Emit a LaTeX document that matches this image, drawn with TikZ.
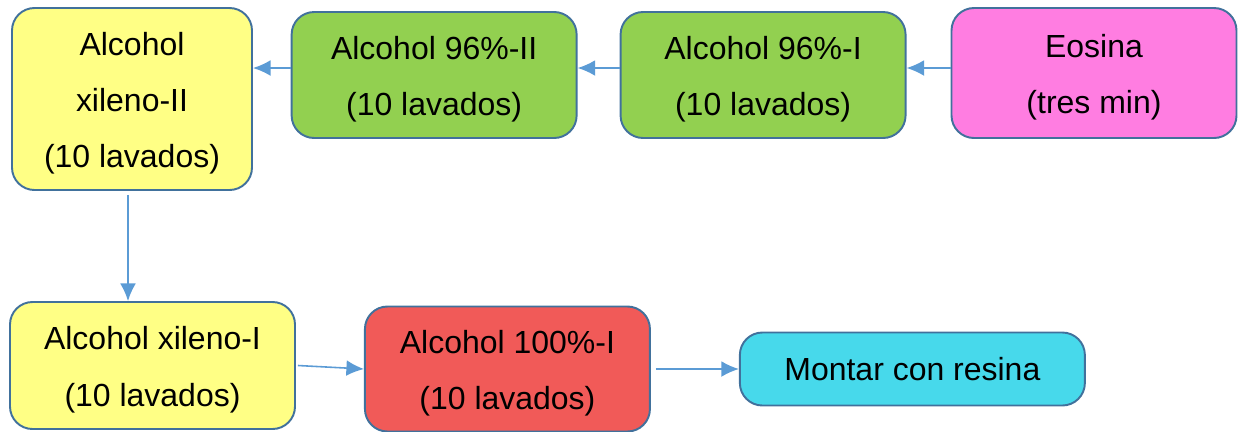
\documentclass[tikz,border=0pt]{standalone}
\usepackage{fontspec}
\setmainfont{Liberation Sans}
\usetikzlibrary{arrows.meta, positioning}
\definecolor{boxline}{HTML}{41719C}
\definecolor{arrowblue}{HTML}{5B9BD5}
\definecolor{xilenofill}{HTML}{FFFF85}
\definecolor{alcfill}{HTML}{92D050}
\definecolor{eosinafill}{HTML}{FF7DE1}
\definecolor{purefill}{HTML}{F15A58}
\definecolor{resinafill}{HTML}{47D9EB}
\newcommand{\topstrut}{\rule{0pt}{18pt}}

\begin{document}
\begin{tikzpicture}[
    every node/.style={draw=boxline, line width=1.1pt, align=center, rounded corners=0.45cm, minimum width=5.7cm, minimum height=2.52cm, font=\fontsize{18.2}{32}\selectfont},
    arrow/.style={-{Latex[length=10pt, width=9pt]}, draw=arrowblue, line width=0.9pt}
]
\useasboundingbox (0,0) rectangle (24.8,-8.62);

% Nodes
\node (eosina) [fill=eosinafill, minimum height=2.6cm] at (21.88,-1.46) {\topstrut Eosina\\(tres min)};
\node (alcI) [fill=alcfill, left=0.88cm of eosina, yshift=-0.04cm] {\topstrut Alcohol 96\%-I\\(10 lavados)};
\node (alcII) [fill=alcfill, left=0.84cm of alcI] {\topstrut Alcohol 96\%-II\\(10 lavados)};
\node (xilenoII) [fill=xilenofill, minimum width=4.8cm, minimum height=3.64cm] at (2.64,-1.98) {\topstrut Alcohol\\xileno-II\\(10 lavados)};
\node (xilenoI) [fill=xilenofill, minimum height=2.54cm] at (3.05,-7.31) {\topstrut Alcohol xileno-I\\(10 lavados)};
\node (pure) [fill=purefill, minimum height=2.5cm, right=1.36cm of xilenoI, yshift=-0.07cm] {\topstrut Alcohol 100\%-I\\(10 lavados)};
\node (resina) [fill=resinafill, minimum width=6.9cm, minimum height=1.46cm, right=1.76cm of pure] {Montar con resina};

% Arrows
\draw[arrow] ([yshift=0.1cm]eosina.west) -- ([yshift=0.1cm]eosina.west -| alcI.east);
\draw[arrow] ([yshift=0.14cm]alcI.west) -- ([yshift=0.14cm]alcI.west -| alcII.east);
\draw[arrow] ([yshift=0.14cm]alcII.west) -- ([yshift=0.14cm]alcII.west -| xilenoII.east);
\draw[arrow] ([xshift=-0.08cm, yshift=-0.08cm]xilenoII.south) -- ([xshift=-0.08cm]xilenoII.south |- xilenoI.north);
\draw[arrow] ([xshift=0.04cm]xilenoI.east) -- (pure.west);
\draw[arrow] ([xshift=0.1cm]pure.east) -- (resina.west);

\end{tikzpicture}
\end{document}
